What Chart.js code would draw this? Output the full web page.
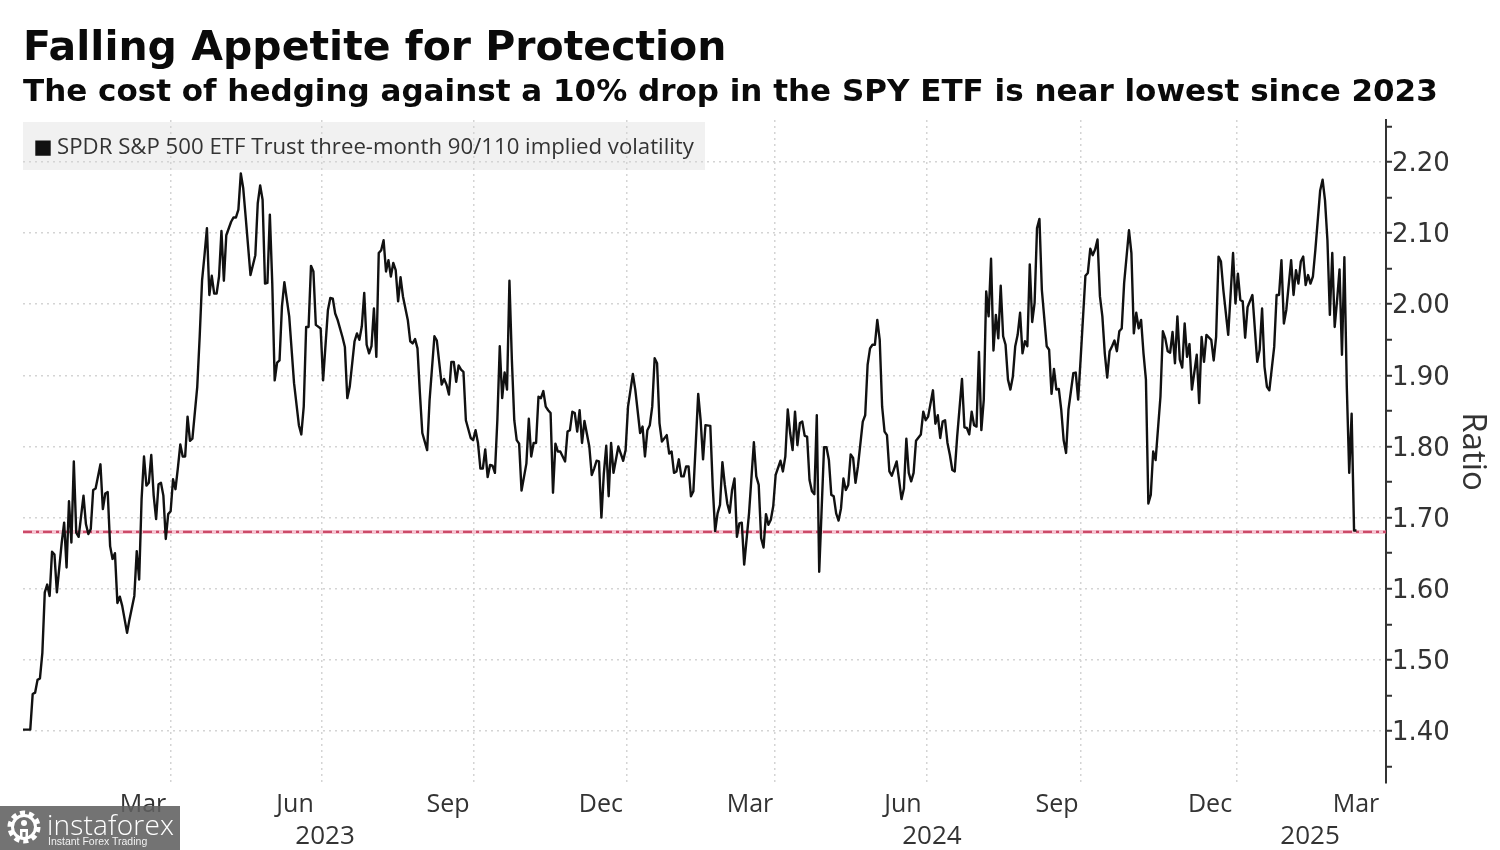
<!DOCTYPE html>
<html><head><meta charset="utf-8">
<script src="https://cdn.jsdelivr.net/npm/chart.js@4"></script>
<style>
html,body{margin:0;padding:0;background:#fff}
#wrap{position:relative;width:1500px;height:850px;overflow:hidden}
#mark{position:absolute;left:0;top:806px;width:180px;height:44px;background:rgba(96,96,96,.88);color:#fff;font-family:"Open Sans",sans-serif}
#mark svg{position:absolute;left:6px;top:3px}
#mark .a{position:absolute;left:47px;top:1px;font-size:28px;line-height:34px;font-weight:300;letter-spacing:.2px}
#mark .b{position:absolute;left:48px;top:29px;font-size:10.5px;line-height:13px;font-family:"Liberation Sans",sans-serif;opacity:.9}
</style></head><body>
<div id="wrap"><canvas id="c" width="1500" height="850"></canvas>
<div id="mark"><svg width="36" height="36" viewBox="0 0 36 36"><circle cx="18" cy="18" r="14" fill="none" stroke="#fff" stroke-width="5" stroke-dasharray="5 3.8"/><circle cx="18" cy="18" r="11.5" fill="none" stroke="#fff" stroke-width="3"/><circle cx="18" cy="14" r="3" fill="#fff"/><path d="M14 20h8v10h-2.5v-7h-3v7H14z" fill="#fff"/></svg><div class="a">instaforex</div><div class="b">Instant Forex Trading</div></div></div>
<script>
const titleText = "Falling Appetite for Protection";
const subtitleText = "The cost of hedging against a 10% drop in the SPY ETF is near lowest since 2023";
const seriesName = "SPDR S&P 500 ETF Trust three-month 90/110 implied volatility";
const axisName = "Ratio";

// trading-day number since the start of January 2023
const tradingDay = [0,3,4,5,6,7,8,9,10,11,12,13,14,16,17,18,19,20,21,22,23,25,26,27,28,29,30,32,33,34,35,36,37,38,39,40,41,43,44,46,47,48,49,50,51,52,53,54,55,56,57,58,59,60,61,62,63,64,65,66,67,68,69,70,72,73,74,75,76,77,78,79,80,81,82,83,84,86,87,88,89,90,91,92,94,96,97,98,99,100,101,102,103,104,105,106,107,108,110,112,114,115,116,117,118,119,120,121,123,124,126,127,128,129,130,132,133,134,135,137,138,139,140,141,142,143,144,145,146,147,148,149,150,151,152,153,154,155,156,157,159,160,161,162,163,164,165,167,168,170,171,173,174,175,176,177,178,179,180,181,182,183,185,186,187,188,189,190,191,192,193,194,195,196,197,198,199,200,201,202,203,204,205,206,208,209,210,211,212,213,214,215,216,217,218,219,220,221,222,224,225,226,227,228,229,230,231,232,234,235,236,237,238,239,240,241,242,243,244,246,247,248,249,250,252,253,255,256,257,258,259,260,261,262,263,264,266,267,268,269,270,271,272,273,274,275,276,277,278,279,280,281,282,284,285,286,287,288,289,290,291,292,293,294,295,296,297,298,300,302,303,304,305,306,307,308,309,310,311,313,314,315,316,317,318,319,320,321,322,323,324,325,326,327,328,329,331,332,333,334,335,336,337,338,339,340,341,342,343,344,345,347,348,349,350,351,352,353,354,355,356,357,358,359,361,362,363,364,365,366,367,368,369,371,372,373,374,376,377,378,379,380,381,382,383,384,385,386,388,389,390,391,392,393,394,395,396,397,398,399,400,401,402,403,404,405,406,407,408,409,410,411,412,413,414,415,416,417,418,419,420,421,423,424,425,426,427,428,429,430,431,432,434,435,436,437,439,440,441,442,443,444,445,446,447,448,449,450,451,452,453,454,455,457,458,459,460,461,462,463,464,465,466,467,468,470,471,472,473,474,475,476,477,478,479,480,481,482,483,485,486,487,488,489,491,492,493,494,495,496,498,500,501,502,503,504,505,506,508,510,511,512,513,514,515,517,518,519,520,521,522,524,525,526,527,528,529,530,531,532,533,534,536,537,538,539,540,541,542,543,544,545,546,547,548,549,550,551];
const ratio = [1.402,1.402,1.452,1.454,1.472,1.474,1.510,1.595,1.606,1.590,1.652,1.648,1.595,1.665,1.693,1.630,1.723,1.665,1.779,1.679,1.673,1.731,1.691,1.677,1.684,1.739,1.741,1.775,1.712,1.734,1.736,1.660,1.642,1.650,1.580,1.589,1.576,1.538,1.557,1.590,1.653,1.613,1.726,1.786,1.745,1.749,1.788,1.731,1.698,1.747,1.749,1.731,1.670,1.705,1.709,1.754,1.740,1.770,1.803,1.786,1.786,1.842,1.808,1.811,1.884,1.954,2.034,2.069,2.107,2.013,2.040,2.015,2.015,2.039,2.103,2.033,2.097,2.116,2.122,2.122,2.133,2.184,2.163,2.123,2.041,2.069,2.142,2.167,2.147,2.029,2.030,2.126,2.029,1.893,1.918,1.921,1.997,2.031,1.983,1.889,1.830,1.817,1.856,1.968,1.968,2.054,2.046,1.971,1.966,1.893,1.992,2.009,2.008,1.987,1.978,1.954,1.940,1.868,1.884,1.948,1.959,1.950,1.969,2.016,1.943,1.931,1.941,1.994,1.926,2.072,2.076,2.090,2.046,2.062,2.039,2.058,2.048,2.004,2.038,2.011,1.978,1.948,1.945,1.951,1.938,1.875,1.819,1.795,1.865,1.955,1.949,1.887,1.895,1.887,1.873,1.919,1.919,1.891,1.914,1.908,1.905,1.837,1.812,1.809,1.823,1.805,1.769,1.769,1.796,1.757,1.774,1.773,1.763,1.837,1.941,1.868,1.904,1.880,2.033,1.922,1.837,1.809,1.804,1.738,1.776,1.839,1.786,1.805,1.805,1.870,1.868,1.878,1.856,1.851,1.847,1.735,1.804,1.793,1.793,1.779,1.821,1.823,1.849,1.847,1.821,1.851,1.805,1.836,1.800,1.760,1.769,1.780,1.779,1.700,1.762,1.801,1.730,1.805,1.763,1.800,1.790,1.780,1.795,1.856,1.902,1.880,1.819,1.828,1.786,1.823,1.830,1.856,1.924,1.917,1.833,1.807,1.816,1.790,1.793,1.763,1.765,1.782,1.758,1.758,1.772,1.772,1.730,1.737,1.805,1.874,1.837,1.782,1.830,1.829,1.744,1.681,1.706,1.718,1.778,1.746,1.720,1.707,1.739,1.755,1.673,1.692,1.693,1.634,1.706,1.806,1.758,1.746,1.671,1.658,1.705,1.690,1.697,1.716,1.760,1.780,1.765,1.786,1.852,1.819,1.795,1.849,1.802,1.833,1.835,1.815,1.814,1.753,1.737,1.733,1.844,1.624,1.799,1.799,1.781,1.732,1.730,1.706,1.696,1.713,1.755,1.739,1.746,1.789,1.784,1.749,1.772,1.835,1.844,1.915,1.938,1.943,1.943,1.978,1.950,1.856,1.821,1.816,1.765,1.759,1.779,1.753,1.726,1.741,1.811,1.763,1.751,1.763,1.808,1.817,1.849,1.837,1.842,1.879,1.832,1.844,1.812,1.835,1.837,1.805,1.788,1.767,1.765,1.814,1.895,1.827,1.826,1.817,1.849,1.830,1.828,1.933,1.823,1.866,2.018,1.983,2.064,1.935,1.985,1.952,2.026,1.955,1.943,1.894,1.880,1.898,1.941,1.957,1.988,1.931,1.948,1.941,2.056,1.975,2.002,2.107,2.120,2.020,1.941,1.936,1.874,1.909,1.880,1.881,1.852,1.809,1.791,1.852,1.903,1.904,1.866,1.922,2.040,2.044,2.078,2.069,2.077,2.091,2.011,1.983,1.931,1.897,1.934,1.941,1.949,1.934,1.962,1.966,2.030,2.104,2.072,1.959,1.988,1.966,1.978,1.931,1.894,1.720,1.732,1.793,1.781,1.870,1.962,1.952,1.934,1.932,1.961,1.917,1.983,1.922,1.911,1.973,1.926,1.944,1.880,1.929,1.861,1.954,1.919,1.957,1.950,1.921,1.954,2.067,2.060,2.020,1.957,2.072,2.001,2.043,2.006,2.004,1.953,1.996,2.013,1.919,1.936,1.994,1.912,1.884,1.879,1.940,2.013,2.013,2.062,1.973,1.992,2.062,2.013,2.048,2.029,2.060,2.067,2.027,2.041,2.029,2.039,2.076,2.160,2.175,2.146,2.090,1.985,2.072,1.968,2.006,2.049,1.929,2.066,1.884,1.763,1.846,1.682,1.682];
const thresholdValue = [1.68,1.68];
const domain = [0,563.2];

const quarterEnds = [61.2,123.6,186.4,249.6,310.7,373.6,437.2,501.7];
const monthPositions = [49.6,112.4,175.6,238.8,300.4,363.6,427.3,490.5,550.8];
const monthLabels = ["Mar","Jun","Sep","Dec","Mar","Jun","Sep","Dec","Mar"];
const yearPositions = [124.8,375.6,531.8];
const yearLabels = ["2023","2024","2025"];
const valueTicks = [1.35,1.40,1.45,1.50,1.55,1.60,1.65,1.70,1.75,1.80,1.85,1.90,1.95,2.00,2.05,2.10,2.15,2.20,2.25];

const axisFont = '"Open Sans", sans-serif';
const titleFont = '"DejaVu Sans", sans-serif';
const isMajor = v => Math.abs(v*10 - Math.round(v*10)) < 1e-6;
const setTicks = list => (s => { s.ticks = list.map(v => ({value:v})); });
const lookup = (pos,lab) => (v => { const i = pos.indexOf(v); return i < 0 ? "" : lab[i]; });

const legendBack = {
  id:"legendBack",
  afterLayout(ch){
    const l = ch.legend;
    l.left = 27; l.top = 124; l.width = 678; l.height = 46; l.right = 705; l.bottom = 170;
  },
  beforeDraw(ch){
    const ctx = ch.ctx;
    ctx.save();
    ctx.fillStyle = "#f1f1f1";
    ctx.fillRect(23, 122, 682, 48);
    ctx.restore();
  }
};

new Chart(document.getElementById("c"), {
  type:"line",
  plugins:[legendBack],
  data:{datasets:[
    {label:seriesName, data:tradingDay.map((d,i)=>({x:d,y:ratio[i]})), borderColor:"#111", backgroundColor:"#111", borderWidth:2.4, pointRadius:0, tension:0, borderJoinStyle:"round", order:1},
    {label:"limit-halo", data:domain.map((d,i)=>({x:d,y:thresholdValue[i]})), borderColor:"rgba(232,130,158,.45)", borderWidth:4, pointRadius:0, order:3},
    {label:"limit", data:domain.map((d,i)=>({x:d,y:thresholdValue[i]})), borderColor:"#cc4a68", borderWidth:2.4, borderDash:[9,4,3,4], pointRadius:0, order:2}
  ]},
  options:{
    responsive:false, animation:false, devicePixelRatio:1,
    layout:{padding:{left:23,right:0,top:0,bottom:0}},
    plugins:{
      title:{display:true,text:titleText,align:"start",color:"#0a0a0a",font:{family:titleFont,size:41,weight:"bold",lineHeight:1.2},padding:{top:25,bottom:0}},
      subtitle:{display:true,text:subtitleText,align:"start",color:"#0a0a0a",font:{family:titleFont,size:31,weight:"bold",lineHeight:1.2},padding:{top:0,bottom:8.6}},
      legend:{position:"chartArea",align:"start",
        labels:{color:"#333",font:{family:axisFont,size:22.2},boxWidth:6,boxHeight:13,padding:13,usePointStyle:true,pointStyle:"rect",
          filter:i=>i.datasetIndex===0}},
      tooltip:{enabled:false}
    },
    scales:{
      x:{type:"linear",position:"bottom",weight:0,min:domain[0],max:domain[1],
        afterBuildTicks:setTicks(quarterEnds),
        afterFit:s=>{s.height=0;},
        ticks:{display:false},
        border:{display:false,dash:[2,4]},
        grid:{color:"#d4d4d4",lineWidth:1.5,drawTicks:false}},
      xMonths:{type:"linear",position:"bottom",weight:1,min:domain[0],max:domain[1],
        afterBuildTicks:setTicks(monthPositions),
        afterFit:s=>{s.height=36;},
        ticks:{autoSkip:false,maxRotation:0,color:"#333",font:{family:axisFont,size:25},padding:7,callback:lookup(monthPositions,monthLabels)},
        border:{display:false},grid:{display:false,drawTicks:false}},
      xYears:{type:"linear",position:"bottom",weight:2,min:domain[0],max:domain[1],
        afterBuildTicks:setTicks(yearPositions),
        afterFit:s=>{s.height=31;},
        ticks:{autoSkip:false,maxRotation:0,color:"#333",font:{family:axisFont,size:26},padding:2,callback:lookup(yearPositions,yearLabels)},
        border:{display:false},grid:{display:false,drawTicks:false}},
      y:{type:"linear",position:"right",min:1.327,max:2.259,
        afterBuildTicks:setTicks(valueTicks),
        afterFit:s=>{s.width=114;},
        ticks:{autoSkip:false,color:"#333",font:{family:titleFont,size:26},padding:0,labelOffset:2.5,
          callback:v=>isMajor(v)?v.toFixed(2):""},
        title:{display:true,text:axisName,color:"#333",font:{family:axisFont,size:33},padding:{top:8,bottom:0}},
        border:{display:true,color:"#333",width:2,dash:[2,4]},
        grid:{lineWidth:1.5,tickLength:6,tickWidth:2,tickColor:"#333",
          color:c=>isMajor(c.tick.value)?"#d4d4d4":"rgba(0,0,0,0)"}}
    }
  }
});
</script></body></html>
